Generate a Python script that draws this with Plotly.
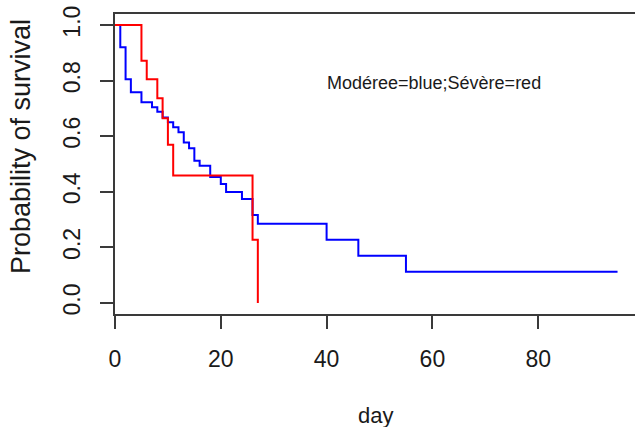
import plotly.graph_objects as go

# Moderate group (blue)
blue_time = [0, 1, 2, 3, 5, 7, 8, 9, 10, 11, 12, 13, 14, 15, 16, 18, 20, 21, 24, 26, 27, 40, 46, 55, 95]
blue_surv = [1.0, 0.92, 0.805, 0.758, 0.722, 0.704, 0.688, 0.667, 0.650, 0.632, 0.614, 0.577, 0.557,
             0.512, 0.494, 0.453, 0.428, 0.399, 0.374, 0.316, 0.285, 0.227, 0.170, 0.112, 0.112]

# Severe group (red)
red_time = [0, 5, 6, 8, 9, 10, 11, 26, 27]
red_surv = [1.0, 0.872, 0.805, 0.737, 0.665, 0.569, 0.459, 0.227, 0.0]

x_ticks = [0, 20, 40, 60, 80]
y_ticks = [0.0, 0.2, 0.4, 0.6, 0.8, 1.0]
y_tick_text = ["0.0", "0.2", "0.4", "0.6", "0.8", "1.0"]

FONT = "Liberation Sans, Arial, sans-serif"
AX = "#3a3a3a"

fig = go.Figure()
fig.add_trace(go.Scatter(x=blue_time, y=blue_surv, mode="lines", line=dict(color="#0000ff", width=2, shape="hv"),
                         showlegend=False, hoverinfo="skip"))
fig.add_trace(go.Scatter(x=red_time, y=red_surv, mode="lines", line=dict(color="#ff0000", width=2, shape="hv"),
                         showlegend=False, hoverinfo="skip"))

fig.update_layout(
    width=635, height=427,
    margin=dict(l=115, r=0, t=14, b=113),
    paper_bgcolor="white", plot_bgcolor="white",
    font=dict(family=FONT, color="#1a1a1a"),
    xaxis=dict(range=[0, 98.3], tickvals=x_ticks, ticks="outside", ticklen=13, tickwidth=2, tickcolor=AX,
               showline=True, linecolor=AX, linewidth=2, mirror=True, showgrid=False, zeroline=False,
               tickfont=dict(size=23, family=FONT, color="#1a1a1a"), ticklabelstandoff=10),
    yaxis=dict(range=[-0.04, 1.04], tickvals=y_ticks, ticktext=y_tick_text, ticks="outside", ticklen=13,
               tickwidth=2, tickcolor=AX, showline=True, linecolor=AX, linewidth=2, mirror=False,
               showgrid=False, zeroline=False, tickangle=-90,
               tickfont=dict(size=23, family=FONT, color="#1a1a1a"), ticklabelstandoff=11),
    annotations=[
        dict(text="Modéree=blue;Sévère=red", x=60.3, y=0.79, xref="x", yref="y", showarrow=False,
             font=dict(size=18, family=FONT, color="#1a1a1a"), xanchor="center", yanchor="middle"),
        dict(text="day", x=0.5, y=0, xref="paper", yref="paper", yshift=-101, showarrow=False,
             font=dict(size=22, family=FONT, color="#1a1a1a"), xanchor="center", yanchor="middle"),
        dict(text="Probability of survival", x=0, y=(314 - 147) / 300, xref="paper", yref="paper", xshift=-94,
             textangle=-90, showarrow=False, font=dict(size=27, family=FONT, color="#1a1a1a"),
             xanchor="center", yanchor="middle"),
    ],
)

fig.write_html("out.html", config={"displayModeBar": False},
               post_script="document.body.style.margin='0';document.body.style.padding='0';")
